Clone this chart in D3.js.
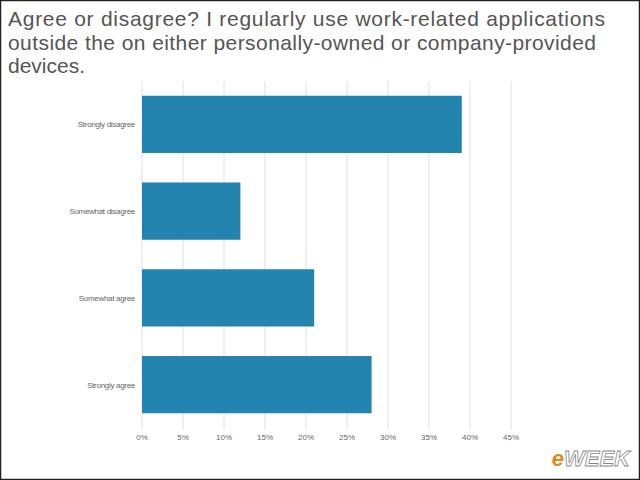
<!DOCTYPE html>
<html><head><meta charset="utf-8">
<script src="https://cdn.jsdelivr.net/npm/d3@7"></script>
<style>body{margin:0;background:#fff}</style>
</head><body>
<script>
const categories = ["Strongly disagree", "Somewhat disagree", "Somewhat agree", "Strongly agree"];
const values = [39, 12, 21, 28];
const ticks = [0, 5, 10, 15, 20, 25, 30, 35, 40, 45];
const titleLines = ["Agree or disagree? I regularly use work-related applications",
  "outside the on either personally-owned or company-provided", "devices."];

const svg = d3.select("body").append("svg").attr("width", 640).attr("height", 480);
svg.append("rect").attr("x", 0.5).attr("y", 0.5).attr("width", 639).attr("height", 479)
  .attr("fill", "#fff").attr("stroke", "#222").attr("stroke-width", 1.5);

svg.append("g").selectAll("text").data(titleLines).enter().append("text")
  .attr("x", 8).attr("y", (d, i) => 26 + i * 23.5)
  .attr("font-family", "Liberation Sans, Arial, sans-serif").attr("font-size", 21)
  .attr("textLength", (d, i) => i === 0 ? 597 : (i === 1 ? 588 : null))
  .attr("fill", "#555").text(d => d);

const x = d3.scaleLinear().domain([0, 45]).range([142, 511]);
const y = d3.scaleBand().domain(categories).range([81, 428]).paddingInner(0.34).paddingOuter(0.17);

// gridlines
svg.append("g").selectAll("line").data(ticks).enter().append("line")
  .attr("x1", d => x(d)).attr("x2", d => x(d)).attr("y1", 81).attr("y2", 430)
  .attr("stroke", "#e0e0e0");

svg.append("g").selectAll("rect").data(values).enter().append("rect")
  .attr("x", x(0)).attr("y", (d, i) => y(categories[i]))
  .attr("width", d => x(d) - x(0)).attr("height", y.bandwidth())
  .attr("fill", "#2484b0");

svg.append("g").selectAll("text").data(categories).enter().append("text")
  .attr("x", 135).attr("y", d => y(d) + y.bandwidth() / 2 + 3)
  .attr("text-anchor", "end").attr("font-family", "Liberation Sans, Arial, sans-serif")
  .attr("font-size", 8).attr("letter-spacing", -0.3).attr("fill", "#666").text(d => d);

svg.append("g").selectAll("text").data(ticks).enter().append("text")
  .attr("x", d => x(d)).attr("y", 440).attr("text-anchor", "middle")
  .attr("font-family", "Liberation Sans, Arial, sans-serif").attr("font-size", 8)
  .attr("fill", "#666").text(d => d + "%");

// logo
const logo = svg.append("text").attr("x", 630).attr("y", 466).attr("text-anchor", "end")
  .attr("font-family", "Liberation Sans, Arial, sans-serif").attr("font-size", 22)
  .attr("font-style", "italic").attr("font-weight", "bold");
logo.append("tspan").attr("fill", "#e08a1e").text("e");
logo.append("tspan").attr("fill", "#fff").attr("stroke", "#888").attr("stroke-width", 0.8).text("WEEK");
</script>
</body></html>
